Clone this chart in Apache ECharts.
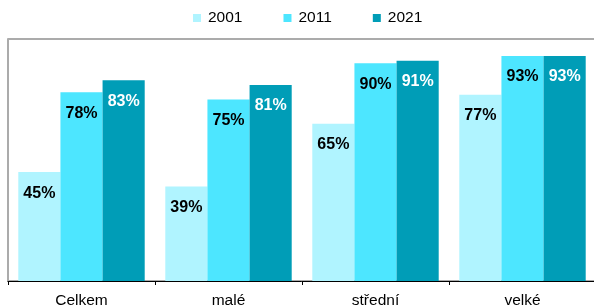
<!DOCTYPE html>
<html>
<head>
<meta charset="utf-8">
<script src="https://cdn.jsdelivr.net/npm/echarts@6/dist/echarts.min.js"></script>
<style>
html,body{margin:0;padding:0;background:#fff;overflow:hidden;}
#c{width:594px;height:307px;}
</style>
</head>
<body>
<div id="c"></div>
<script>
const categories = ['Celkem', 'malé', 'střední', 'velké'];
const seriesNames = ['2001', '2011', '2021'];
const values2001 = [45, 39, 65, 77];
const values2011 = [78, 75, 90, 93];
const values2021 = [83, 81, 91, 93];
const colors = ['#B0F4FF', '#4DE6FF', '#009DB7'];
const labelColors = ['#000', '#000', '#fff'];
const allValues = [values2001, values2011, values2021];

const chart = echarts.init(document.getElementById('c'), null, {renderer: 'canvas'});
const font = '"Liberation Sans", Arial, sans-serif';
chart.setOption({
  animation: false,
  textStyle: {fontFamily: font},
  legend: {
    top: 10,
    left: 193,
    padding: 0,
    icon: 'rect',
    itemWidth: 8,
    itemHeight: 8,
    itemGap: 41,
    textStyle: {fontFamily: font, fontSize: 15.5, color: '#000', padding: [0, 0, 0, 2]},
    data: seriesNames
  },
  grid: {
    left: 8,
    top: 39,
    width: 588,
    height: 242,
    show: false,
    containLabel: false,
    outerBoundsMode: 'none'
  },
  xAxis: {
    type: 'category',
    data: categories,
    axisLine: {show: true, lineStyle: {color: '#000', width: 1}},
    axisTick: {show: true, length: 4, lineStyle: {color: '#000'}},
    axisLabel: {fontFamily: font, fontSize: 15.5, color: '#000', margin: 12},
    z: 5
  },
  yAxis: {
    type: 'value',
    min: 0,
    max: 100,
    interval: 100,
    axisLine: {show: true, lineStyle: {color: '#ababab', width: 2}},
    axisTick: {show: false},
    axisLabel: {show: false},
    splitLine: {show: true, lineStyle: {color: '#ababab', width: 2}}
  },
  series: seriesNames.map((name, i) => ({
    name: name,
    type: 'bar',
    data: allValues[i],
    barGap: '0%',
    barCategoryGap: '14%',
    itemStyle: {color: colors[i]},
    label: {
      show: true,
      position: 'insideTop',
      distance: 13,
      formatter: p => p.value + '%',
      fontFamily: font,
      fontSize: 16,
      fontWeight: 'bold',
      color: labelColors[i]
    }
  }))
});
</script>
</body>
</html>
